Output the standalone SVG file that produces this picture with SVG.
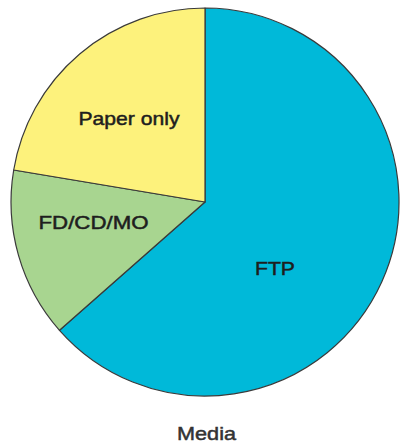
<svg xmlns="http://www.w3.org/2000/svg" width="400" height="443" viewBox="0 0 400 443">
<style>
.slice{stroke:#3a3a3a;stroke-width:1.2;stroke-linejoin:round}
.lbl{font-family:"Liberation Sans",Arial,sans-serif;font-size:19px;fill:#1e1e1e;text-anchor:middle;font-weight:normal;stroke:#1e1e1e;stroke-width:0.5}
</style>
<rect width="400" height="443" fill="#ffffff"/>
<g id="ftp">
<path class="slice" fill="#00b9d9" d="M205,202 L205,8 A194,194 0 1,1 59.5,330.3 Z"/>
<text class="lbl" x="275" y="275" textLength="40" lengthAdjust="spacingAndGlyphs">FTP</text>
</g>
<g id="fdcdmo">
<path class="slice" fill="#a8d590" d="M205,202 L59.5,330.3 A194,194 0 0,1 13.7,170 Z"/>
<text class="lbl" x="93.5" y="228.5" textLength="110" lengthAdjust="spacingAndGlyphs">FD/CD/MO</text>
</g>
<g id="paper">
<path class="slice" fill="#fdf27c" d="M205,202 L13.7,170 A194,194 0 0,1 205,8 Z"/>
<text class="lbl" x="129" y="124.5" textLength="101" lengthAdjust="spacingAndGlyphs">Paper only</text>
</g>
<g id="title">
<text class="lbl" x="206.5" y="439.5" textLength="59" lengthAdjust="spacingAndGlyphs" style="fill:#333;stroke:#333">Media</text>
</g>
<g id="connectors"></g>
</svg>
